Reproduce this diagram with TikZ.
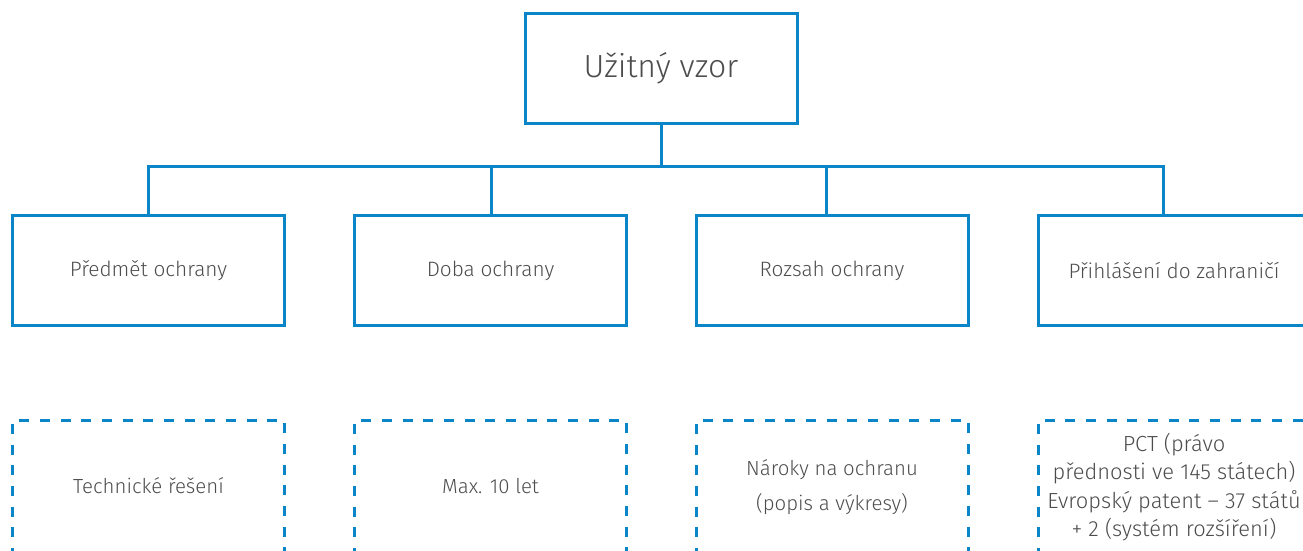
\documentclass[tikz,border=0pt]{standalone}
\usepackage{fontspec}
\setmainfont{Fira Sans}[UprightFont=* Light]
\definecolor{lineblue}{HTML}{0A86C8}
\definecolor{textgray}{HTML}{4D4D4D}
\begin{document}
\begin{tikzpicture}[x=0.75pt,y=-0.75pt,
  box/.style={draw=lineblue,line width=2.25pt,minimum width=204pt,minimum height=82pt,
    inner sep=0pt,text=textgray,align=center},
  topbox/.style={box,font=\fontsize{24}{28}\selectfont},
  midbox/.style={box,font=\fontsize{15.6}{18}\selectfont},
  dashbox/.style={box,dash pattern=on 7.5pt off 8pt,minimum height=100.5pt,
    font=\fontsize{15.3}{18}\selectfont},
  link/.style={draw=lineblue,line width=2.25pt,line join=miter}]
\useasboundingbox (0,0) rectangle (1303,550);
\clip (0,0) rectangle (1303,550);

% root
\node[topbox] (top) at (661,68.5) {Užitný vzor};

% second row
\node[midbox] (a1) at (148.5,270.5) {Předmět ochrany};
\node[midbox] (a2) at (490.5,270.5) {Doba ochrany};
\node[midbox] (a3) at (832,270.5) {Rozsah ochrany};
\node[midbox] (a4) at (1174,270.5) {Přihlášení do zahraničí};

% bus line
\coordinate (d1) at (148,166);
\coordinate (d2) at (491,166);
\coordinate (d3) at (826,166);
\coordinate (d4) at (1163,166);
\draw[link] (top.south) -- (top.south |- d1);
\draw[link] (a1.north -| d1) -- (d1) -- (d4) -- (a4.north -| d4);
\draw[link] (d2) -- (a2.north -| d2);
\draw[link] (d3) -- (a3.north -| d3);

% detail row
\node[dashbox] (b1) at (148.5,487) {\raisebox{2pt}{Technické řešení}};
\node[dashbox] (b2) at (490.5,487) {\raisebox{2pt}{Max. 10 let}};
\node[dashbox,font=\fontsize{15.3}{26}\selectfont] (b3) at (832,487)
  {Nároky na ochranu\\(popis a výkresy)};
\node[dashbox,font=\fontsize{16.4}{21.4}\selectfont] (b4) at (1174,487)
  {PCT (právo\\přednosti ve 145 státech)\\Evropský patent – 37 států\\+ 2 (systém rozšíření)};
\end{tikzpicture}
\end{document}
